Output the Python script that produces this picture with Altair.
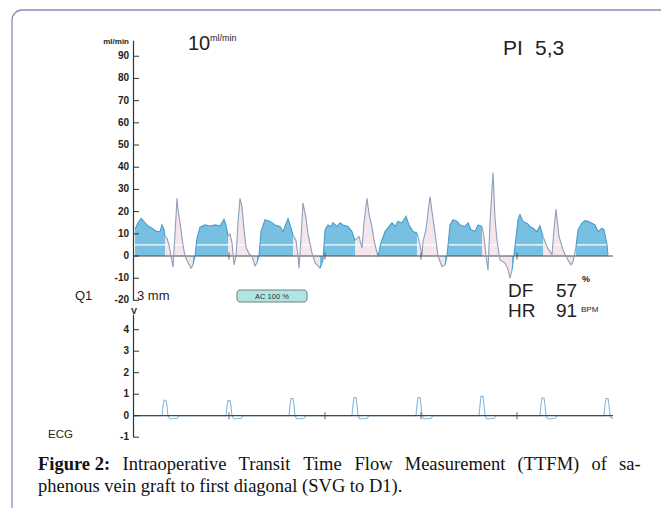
import altair as alt
import pandas as pd

# ---------------- data ----------------
# Flow trace: sample index (96 samples per second), flow in ml/min
FLOW_T = [2, 5, 8, 11, 15, 19, 24, 27, 29, 31, 32, 34, 36, 38, 40, 42, 44, 45, 47, 50, 52, 55, 58, 60, 62,
          64, 67, 72, 77, 82, 87, 91, 93, 95, 97, 99, 101, 103, 105, 107, 109, 111, 113, 116, 119, 122, 124, 126,
          128, 132, 137, 142, 147, 150, 155, 158, 160, 163, 165, 166, 168, 170, 173, 175, 179, 182, 187, 190,
          192, 195, 198, 200, 204, 207, 210, 215, 219, 222, 226, 229, 231, 234, 236, 239, 241, 244, 245,
          248, 252, 255, 259, 262, 265, 269, 273, 276, 280, 284, 286, 289, 290, 293, 297, 299, 302, 305, 309, 312, 314,
          317, 320, 324, 327, 332, 335, 338, 342, 345, 349, 351, 353, 355, 357, 360, 362, 364, 367, 372, 375, 377, 379, 382,
          385, 387, 390, 394, 397, 400, 404, 407, 410, 414, 419, 421, 423, 426, 430, 435, 438, 440, 443,
          445, 449, 452, 455, 459, 462, 465, 469, 471, 474, 475]
FLOW_V = [12, 15, 17, 15.5, 13.5, 12.5, 11, 11, 14, 12, 9, 8, 5, 0, -5, 10, 26, 21, 15, 5, 0, -3, -5.5, -4, 0,
          8, 13, 14, 13.5, 14, 13.5, 16.5, 14, 9, 10, 6, -4, 0, 15, 26, 22, 12, 4, 1, 0, -4.5, -3, 0,
          11, 16.4, 15.6, 14, 13.3, 11, 16.8, 12.7, 9.5, 7, 0, -5.5, 8, 24, 17, 10, 1.4, -3, -5.5, -1.8,
          11.8, 14, 13.3, 15, 13.3, 15, 14, 13.3, 11, 7, 8.8, 3.6, 15, 26, 19, 13, 7, 1.4, 0,
          6, 11, 12.7, 15, 13.3, 15.6, 15, 17.9, 14, 11, 10.4, 7, 0.5, 6.5, 12, 26.8, 20, 10.4, 0, -4.8, -4, 0,
          14, 16.4, 15.6, 14, 13.3, 15, 11.8, 11, 14, 13.3, 8.8, 0, -6.4, 15, 37.6, 17, 7, -1.8, -3.2, -6, -10, -6.4, 4.2,
          16.4, 18.6, 15.6, 14.8, 13.3, 12.5, 11, 13.6, 8.8, 4.2, 0.5, 12, 21, 8.8, 2.7, -1.8, -4, -2.6, 4.2,
          11.8, 14.8, 15.9, 15.6, 14.8, 14, 11, 12.5, 11.8, 5, 0.5]
# diastolic (blue) phases, sample index
DIA_START = [0, 62, 126, 190, 245, 314, 381, 444]
DIA_END = [33, 95, 162, 222, 285, 350, 412, 475]
MEAN_FLOW = 5
FLOW_TICKS = [-20, -10, 0, 10, 20, 30, 40, 50, 60, 70, 80, 90]
FLOW_DOMAIN = [-20, 97]

# ECG trace: sample index, volts
ECG_T = [0,
         29, 30, 31, 33, 34, 35, 37, 44, 46,
         93, 94, 95, 97, 98, 99, 101, 108, 110,
         156, 157, 158, 160, 161, 162, 164, 171, 173,
         219, 220, 221, 223, 224, 225, 227, 234, 236,
         283, 284, 285, 287, 288, 289, 291, 298, 300,
         346, 347, 348, 350, 351, 352, 354, 361, 363,
         407, 408, 409, 411, 412, 413, 415, 422, 424,
         471, 472, 473, 475, 476, 477, 479, 480]
ECG_V = [0,
         0, 0.45, 0.72, 0.72, 0.45, 0, -0.15, -0.12, 0,
         0, 0.45, 0.70, 0.70, 0.45, 0, -0.15, -0.12, 0,
         0, 0.5, 0.80, 0.80, 0.5, 0, -0.15, -0.12, 0,
         0, 0.5, 0.85, 0.85, 0.5, 0, -0.15, -0.12, 0,
         0, 0.5, 0.85, 0.85, 0.5, 0, -0.15, -0.12, 0,
         0, 0.5, 0.90, 0.90, 0.5, 0, -0.15, -0.12, 0,
         0, 0.5, 0.82, 0.82, 0.5, 0, -0.15, -0.12, 0,
         0, 0.5, 0.80, 0.80, 0.5, 0, -0.12, -0.1]
ECG_TICKS = [-1, 0, 1, 2, 3, 4]
ECG_DOMAIN = [-1, 4.7]
SECOND_MARKS = [96, 192, 288, 384]
T_END = 480

CAPTION_LINE1 = ["Figure 2:", "Intraoperative", "Transit", "Time", "Flow", "Measurement", "(TTFM)", "of", "sa-"]
CAPTION_LINE2 = "phenous vein graft to first diagonal (SVG to D1)."

# ---------------- styling / layout ----------------
W, H = 653, 500
SANS = "Liberation Sans"
SERIF = "Liberation Serif"
BLUE = "#78c0e2"
PINK = "#f4e6ea"
LINE_DIA = "#4b9bcd"
LINE_SYS = "#8d9fbb"
ECG_COL = "#86b8dc"
AXIS_COL = "#333333"
FRAME_COL = "#8b8bbb"
AXIS_X = 125.5
# justified word starts of caption line 1 (pixels)
CAPTION_X = [30, 114.6, 230.6, 295.2, 346.5, 396.7, 509.6, 583.5, 611.1]

xs = alt.Scale(domain=[0, T_END], range=[125, 605], nice=False, zero=False)
fs = alt.Scale(domain=FLOW_DOMAIN, range=[292.4, 32.7], nice=False, zero=False)
es = alt.Scale(domain=ECG_DOMAIN, range=[429.2, 306.65], nice=False, zero=False)


# build flow segments (table derived from arrays)
def phase_of(t):
    return "diastole" if any(a <= t <= b for a, b in zip(DIA_START, DIA_END)) else "systole"


rows = []
seg = 0
prev = None
for t, v in zip(FLOW_T, FLOW_V):
    ph = phase_of(t)
    if prev is not None and ph != prev[2]:
        seg += 1
        rows.append({"t": prev[0], "v": prev[1], "phase": ph, "seg": seg})
    rows.append({"t": t, "v": v, "phase": ph, "seg": seg})
    prev = (t, v, ph)
flow_df = pd.DataFrame(rows)
flow_df["zero"] = 0

ecg_df = pd.DataFrame({"t": ECG_T, "v": ECG_V})
flow_ticks_df = pd.DataFrame({"v": FLOW_TICKS, "lab": [str(v) for v in FLOW_TICKS]})
ecg_ticks_df = pd.DataFrame({"v": ECG_TICKS, "lab": [str(v) for v in ECG_TICKS]})
sec_df = pd.DataFrame({"t": SECOND_MARKS})
ONE = pd.DataFrame({"k": [0]})

phase_dom = ["diastole", "systole"]


def axis_layers(ticks_df, scale, domain):
    line = alt.Chart(ONE).mark_rule(color=AXIS_COL, strokeWidth=1.2).encode(
        x=alt.value(AXIS_X),
        y=alt.Y(datum=domain[0], scale=scale, axis=None), y2=alt.Y2(datum=domain[1]),
    )
    ticks = alt.Chart(ticks_df).mark_rule(color=AXIS_COL, strokeWidth=1).encode(
        y=alt.Y("v:Q", scale=scale, axis=None), x=alt.value(AXIS_X), x2=alt.value(131),
    )
    labels = alt.Chart(ticks_df).mark_text(align="right", baseline="middle", font=SANS, fontWeight="bold",
                                           fontSize=10, color="#222222").encode(
        y=alt.Y("v:Q", scale=scale, axis=None), x=alt.value(121), text="lab:N",
    )
    return [line, ticks, labels]


# ---------------- flow panel ----------------
flow_area = alt.Chart(flow_df).mark_area(opacity=1).encode(
    x=alt.X("t:Q", scale=xs, axis=None),
    y=alt.Y("v:Q", scale=fs, axis=None, stack=None),
    y2="zero:Q",
    fill=alt.Fill("phase:N", scale=alt.Scale(domain=phase_dom, range=[BLUE, PINK]), legend=None),
    detail="seg:N",
)
flow_mean = alt.Chart(ONE).mark_rule(color="white", strokeWidth=1.3).encode(
    x=alt.X(datum=0, scale=xs, axis=None), x2=alt.X2(datum=T_END),
    y=alt.Y(datum=MEAN_FLOW, scale=fs, axis=None),
)
flow_base = alt.Chart(ONE).mark_rule(color="#4a4a4a", strokeWidth=1.2).encode(
    x=alt.X(datum=0, scale=xs, axis=None), x2=alt.X2(datum=T_END),
    y=alt.Y(datum=0, scale=fs, axis=None),
)
flow_line = alt.Chart(flow_df).mark_line(strokeWidth=1.1).encode(
    x=alt.X("t:Q", scale=xs, axis=None),
    y=alt.Y("v:Q", scale=fs, axis=None),
    stroke=alt.Stroke("phase:N", scale=alt.Scale(domain=phase_dom, range=[LINE_DIA, LINE_SYS]), legend=None),
    detail="seg:N",
)
flow_sec = alt.Chart(sec_df).mark_tick(orient="vertical", size=7, thickness=1.2, color="#444444").encode(
    x=alt.X("t:Q", scale=xs, axis=None), y=alt.Y(datum=0, scale=fs, axis=None),
)
flow_group = alt.layer(flow_area, flow_mean, flow_base, flow_line, flow_sec,
                       *axis_layers(flow_ticks_df, fs, FLOW_DOMAIN))

# ---------------- ECG panel ----------------
ecg_line = alt.Chart(ecg_df).mark_line(strokeWidth=1.1, color=ECG_COL).encode(
    x=alt.X("t:Q", scale=xs, axis=None),
    y=alt.Y("v:Q", scale=es, axis=None),
)
ecg_base = alt.Chart(ONE).mark_rule(color="#4a4a4a", strokeWidth=1.2).encode(
    x=alt.X(datum=0, scale=xs, axis=None), x2=alt.X2(datum=T_END),
    y=alt.Y(datum=0, scale=es, axis=None),
)
ecg_sec = alt.Chart(sec_df).mark_tick(orient="vertical", size=7, thickness=1.2, color="#444444").encode(
    x=alt.X("t:Q", scale=xs, axis=None), y=alt.Y(datum=0, scale=es, axis=None),
)
ecg_group = alt.layer(ecg_line, ecg_base, ecg_sec, *axis_layers(ecg_ticks_df, es, ECG_DOMAIN))


# ---------------- texts ----------------
def label(text, x, y, size, weight="normal", align="left", baseline="alphabetic", font=SANS, color="#222222"):
    return alt.Chart(ONE).mark_text(text=text, fontSize=size, fontWeight=weight, align=align,
                                    baseline=baseline, font=font, color=color).encode(
        x=alt.value(x), y=alt.value(y))


frame = alt.Chart(ONE).mark_rect(fill="transparent", stroke=FRAME_COL, strokeWidth=1.3, cornerRadius=10).encode(
    x=alt.value(4), y=alt.value(2), x2=alt.value(720), y2=alt.value(560))

ac_box = alt.Chart(ONE).mark_rect(fill="#b2e4e2", stroke="#6f8082", strokeWidth=1, cornerRadius=3).encode(
    x=alt.value(229), y=alt.value(282), x2=alt.value(299), y2=alt.value(294))

texts = [
    label("ml/min", 121, 34, 8, weight="bold", align="right", baseline="middle"),
    label("10", 180, 42, 20),
    label("ml/min", 202, 33, 9),
    label("PI", 495, 47, 21),
    label("5,3", 527, 47, 21),
    label("Q1", 67, 292, 13),
    label("3 mm", 129, 292, 13),
    label("AC 100 %", 264, 288.5, 7.5, baseline="middle", align="center", color="#333333"),
    label("DF", 500, 289, 19),
    label("57", 548, 289, 19),
    label("%", 574, 274, 9, weight="bold"),
    label("HR", 500, 309, 19),
    label("91", 548, 309, 19),
    label("BPM", 573, 304, 8),
    label("V", 126, 303, 9, weight="bold", align="center", baseline="middle"),
    label("ECG", 40, 430, 11.5),
    label(CAPTION_LINE2, 30, 484, 18.5, font=SERIF, color="#111111"),
]
for i, (word, wx) in enumerate(zip(CAPTION_LINE1, CAPTION_X)):
    texts.append(label(word, wx, 462, 18.5, weight="bold" if i == 0 else "normal", font=SERIF, color="#111111"))

chart = alt.layer(frame, ac_box, flow_group, ecg_group, *texts).resolve_scale(
    y="independent", fill="independent", stroke="independent"
).properties(
    width=W, height=H, autosize=alt.AutoSizeParams(type="none"), padding=0
).configure_view(stroke="transparent")

chart.save("out.html", embed_options={"renderer": "svg", "actions": False})
